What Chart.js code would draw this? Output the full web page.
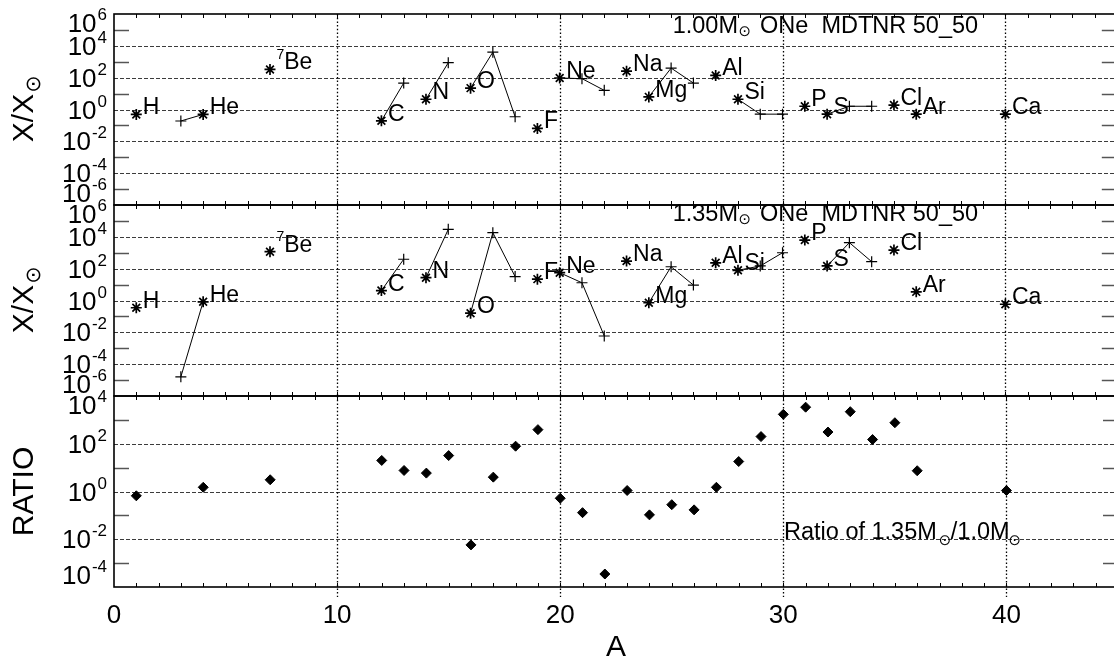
<!DOCTYPE html>
<html>
<head>
<meta charset="utf-8">
<title>ONe nova yields: X/Xsun and ratio</title>
<script src="https://cdn.jsdelivr.net/npm/chart.js@4.4.1/dist/chart.umd.min.js"></script>
<style>
  html, body { margin: 0; padding: 0; background: #fff; overflow: hidden; }
  #plots { position: relative; width: 1114px; height: 659px; overflow: hidden; }
  #plots canvas { position: absolute; left: 0; top: 0; }
</style>
</head>
<body>
<div id="plots">
  <canvas id="top" width="1124" height="659"></canvas>
  <canvas id="mid" width="1124" height="659"></canvas>
  <canvas id="ratio" width="1124" height="659"></canvas>
</div>
<script>
const FONT = '"Liberation Sans", Arial, Helvetica, sans-serif';
const SUN = '\u2299';

// mass number of the main isotope of each element (asterisks)
const A_MAIN = [1, 4, 7, 12, 14, 16, 19, 20, 23, 24, 27, 28, 31, 32, 35, 36, 40];
const ELEMENTS = ['H', 'He', 'Be', 'C', 'N', 'O', 'F', 'Ne', 'Na', 'Mg', 'Al', 'Si', 'P', 'S', 'Cl', 'Ar', 'Ca'];
// the other isotopes (plus signs), joined by a line to their element
const A_MINOR = [3, 13, 15, 17, 18, 21, 22, 25, 26, 29, 30, 33, 34];
const MINOR_OF = ['He', 'C', 'N', 'O', 'O', 'Ne', 'Ne', 'Mg', 'Mg', 'Si', 'Si', 'S', 'S'];

// X/Xsun, 1.00 Msun ONe white dwarf
const main100 = [0.49, 0.49, 330, 0.195, 4.4, 22, 0.065, 95, 257, 6.2, 138, 4.4, 1.6, 0.51, 1.9, 0.51, 0.51];
const minor100 = [0.19, 46, 870, 4000, 0.35, 87, 16, 400, 46, 0.51, 0.51, 1.6, 1.6];

// X/Xsun, 1.35 Msun ONe white dwarf
const main135 = [0.35, 0.83, 1170, 4.2, 27, 0.16, 22, 56, 300, 0.72, 234, 79, 6300, 148, 1480, 3.5, 0.58];
const minor135 = [1.6e-5, 390, 29500, 18200, 32, 13, 0.0059, 132, 9.3, 148, 1000, 4300, 275];

// 1.35 / 1.00 ratio by mass number
const A_RATIO = [1, 4, 7, 12, 13, 14, 15, 16, 17, 18, 19, 20, 21, 22, 23, 24, 25, 26, 27, 28, 29, 30, 31, 32, 33, 34, 35, 36, 40];
const ratio = [0.66, 1.5, 3.1, 20, 7.6, 5.9, 32, 0.0058, 4.0, 79, 390, 0.52, 0.13, 3.5e-4, 1.1, 0.105, 0.28, 0.17,
               1.5, 18, 200, 1700, 3400, 310, 2200, 150, 760, 7.4, 1.1];

// tick labels
const X_TICKS = [0, 10, 20, 30, 40];
const EXP_ABUND = [6, 4, 2, 0, -2, -4, -6];
const EXP_RATIO = [4, 2, 0, -2, -4];

// size a sun symbol so its ink is d pixels tall
function sunMetrics(ctx, d) {
    ctx.font = '100px "DejaVu Sans"';
    const m0 = ctx.measureText(SUN);
    const size = 100 * d / (m0.actualBoundingBoxAscent + m0.actualBoundingBoxDescent);
    const font = size.toFixed(2) + 'px "DejaVu Sans"';
    ctx.font = font;
    const m = ctx.measureText(SUN);
    return {
        font,
        left: m.actualBoundingBoxLeft,
        width: m.actualBoundingBoxLeft + m.actualBoundingBoxRight,
        mid: (m.actualBoundingBoxAscent - m.actualBoundingBoxDescent) / 2
    };
}

// text runs with inline sun symbols; returns the advance width
function richText(ctx, x0, base, parts, size, draw) {
    let x = x0;
    ctx.textAlign = 'left';
    ctx.textBaseline = 'alphabetic';
    parts.forEach(p => {
        if (typeof p === 'string') {
            ctx.font = size + 'px ' + FONT;
            if (draw) ctx.fillText(p, x, base);
            x += ctx.measureText(p).width;
        } else {
            const s = sunMetrics(ctx, p.sun);
            x += p.pre || 0;
            ctx.font = s.font;
            if (draw) ctx.fillText(SUN, x + s.left, base + (p.dy || 0) + s.mid);
            x += s.width + (p.post || 0);
        }
    });
    return x - x0;
}

// join each element's isotopes with a line, gaps between elements
function chains(main, minor) {
    const pts = [];
    ELEMENTS.forEach((el, i) => {
        const iso = [{ x: A_MAIN[i], y: main[i] }];
        MINOR_OF.forEach((m, j) => { if (m === el) iso.push({ x: A_MINOR[j], y: minor[j] }); });
        if (iso.length < 2) return;
        iso.sort((a, b) => a.x - b.x);
        pts.push(...iso, { x: iso[iso.length - 1].x + 0.5, y: null });
    });
    return pts;
}

function line(ctx, x1, y1, x2, y2) {
    ctx.beginPath();
    ctx.moveTo(x1, y1);
    ctx.lineTo(x2, y2);
    ctx.stroke();
}

// IDL-style frame, grid, tick labels and annotations for one panel
function idlPanel(cfg) {
    return {
        id: 'idlPanel',
        beforeDatasetsDraw(chart) {
            const { ctx, chartArea: a, scales: { x, y } } = chart;
            ctx.save();
            ctx.strokeStyle = '#3c3c3c';
            ctx.lineWidth = 1;
            ctx.setLineDash([4, 2]);
            cfg.exps.forEach(p => {
                const py = Math.round(y.getPixelForValue(Math.pow(10, p))) + 0.5;
                if (py <= a.top + 2 || py >= a.bottom - 2) return;
                line(ctx, a.left, py, a.right, py);
            });
            ctx.strokeStyle = '#000';
            ctx.lineWidth = 1.3;
            ctx.setLineDash([1.5, 2.2]);
            X_TICKS.forEach(v => {
                if (v <= x.min || v >= x.max) return;
                const px = Math.round(x.getPixelForValue(v)) + 0.5;
                line(ctx, px, a.top, px, a.bottom + (cfg.xLabels ? 10 : 0));
            });
            ctx.restore();
        },
        afterDatasetsDraw(chart) {
            const { ctx, chartArea: a, scales: { x, y } } = chart;
            ctx.save();
            ctx.fillStyle = '#000';

            // odd decades: short ticks on both sides
            const lo = Math.min(...cfg.exps), hi = Math.max(...cfg.exps);
            ctx.strokeStyle = '#555';
            ctx.lineWidth = 1.5;
            for (let p = lo + 1; p < hi; p += 2) {
                const py = Math.round(y.getPixelForValue(Math.pow(10, p))) + 0.5;
                line(ctx, a.left, py, a.left + 15, py);
                line(ctx, a.right - 15, py, a.right, py);
            }

            // unit ticks along top and bottom
            ctx.strokeStyle = '#000';
            ctx.lineWidth = 1;
            for (let v = Math.ceil(x.min) + 1; v < x.max; v++) {
                const px = Math.round(x.getPixelForValue(v)) + 0.5;
                line(ctx, px, a.top, px, a.top + 4);
                line(ctx, px, a.bottom - 4, px, a.bottom);
            }

            ctx.lineWidth = 1.6;
            ctx.strokeRect(a.left, a.top, a.right - a.left, a.bottom - a.top);

            // decade labels 10^n, end labels pulled inside the panel
            ctx.textBaseline = 'alphabetic';
            ctx.textAlign = 'right';
            cfg.exps.forEach(p => {
                let cy = y.getPixelForValue(Math.pow(10, p));
                cy = Math.min(Math.max(cy, a.top + 9), a.bottom - 12);
                const base = cy + 9;
                const es = String(p);
                ctx.font = '17px ' + FONT;
                const ew = ctx.measureText(es).width;
                ctx.fillText(es, a.left - 7, base - 12);
                ctx.font = '26px ' + FONT;
                ctx.fillText('10', a.left - 8 - ew, base);
            });

            // rotated axis title
            ctx.save();
            ctx.translate(a.left - 81, (a.top + a.bottom) / 2);
            ctx.rotate(-Math.PI / 2);
            const tw = richText(ctx, 0, 0, cfg.yTitle, 30, false);
            richText(ctx, -tw / 2, 0, cfg.yTitle, 30, true);
            ctx.restore();

            // element names beside the main isotope
            if (cfg.main) {
                ELEMENTS.forEach((el, i) => {
                    const px = x.getPixelForValue(A_MAIN[i]) + 6.5;
                    const py = y.getPixelForValue(cfg.main[i]);
                    ctx.textAlign = 'left';
                    if (el === 'Be') {
                        ctx.font = '14px ' + FONT;
                        ctx.fillText('7', px, py - 10.5);
                        const w7 = ctx.measureText('7').width;
                        ctx.font = '23px ' + FONT;
                        ctx.fillText('Be', px + w7, py);
                    } else {
                        ctx.font = '23px ' + FONT;
                        ctx.fillText(el, px, py);
                    }
                });
            }

            // caption inside the panel
            const c = cfg.caption;
            richText(ctx, x.getPixelForValue(c.at[0]), y.getPixelForValue(c.at[1]), c.parts, 23.5, true);

            // x tick labels and title under the bottom panel
            if (cfg.xLabels) {
                ctx.textAlign = 'center';
                ctx.font = '26px ' + FONT;
                X_TICKS.forEach(v => ctx.fillText(String(v), x.getPixelForValue(v), a.bottom + 36));
                ctx.font = '30px ' + FONT;
                ctx.fillText('A', x.getPixelForValue((x.min + x.max) / 2), a.bottom + 69);
            }
            ctx.restore();
        }
    };
}

function panel(id, top, bottom, yMin, yMax, datasets, cfg) {
    return new Chart(document.getElementById(id), {
        type: 'scatter',
        data: { datasets },
        options: {
            responsive: false,
            animation: false,
            devicePixelRatio: 1,
            events: [],
            layout: { padding: { left: 114, right: 3, top: top, bottom: 659 - bottom } },
            scales: {
                x: { type: 'linear', min: 0, max: 45, display: false },
                y: { type: 'logarithmic', min: yMin, max: yMax, display: false }
            },
            plugins: { legend: { display: false }, tooltip: { enabled: false } }
        },
        plugins: [idlPanel(cfg)]
    });
}

function abundanceSets(main, minor) {
    return [
        {
            data: A_MAIN.map((a, i) => ({ x: a, y: main[i] })),
            pointStyle: 'star', pointRadius: 5.5,
            borderColor: '#000', backgroundColor: '#000', borderWidth: 1.7
        },
        {
            data: A_MINOR.map((a, i) => ({ x: a, y: minor[i] })),
            pointStyle: 'cross', pointRadius: 5.5,
            borderColor: '#000', backgroundColor: '#000', borderWidth: 1.2
        },
        {
            data: chains(main, minor),
            showLine: true, spanGaps: false, pointRadius: 0,
            borderColor: '#000', borderWidth: 1
        }
    ];
}

const sunTitle = ['X/X', { sun: 14, dy: 0, pre: 2 }];

panel('top', 14, 205, 1e-6, 1e6, abundanceSets(main100, minor100), {
    exps: EXP_ABUND,
    yTitle: sunTitle,
    main: main100,
    caption: { at: [25.07, Math.pow(10, 4.8)], parts: ['1.00M', { sun: 10, dy: -1.7, pre: 1.5, post: 3 }, ' ONe  MDTNR 50_50'] }
});

panel('mid', 205, 396, 1e-6, 1e6, abundanceSets(main135, minor135), {
    exps: EXP_ABUND,
    yTitle: sunTitle,
    main: main135,
    caption: { at: [25.07, 1e5], parts: ['1.35M', { sun: 10, dy: -1.7, pre: 1.5, post: 3 }, ' ONe  MDTNR 50_50'] }
});

panel('ratio', 396, 587, 1e-4, 1e4, [
    {
        data: A_RATIO.map((a, i) => ({ x: a, y: ratio[i] })),
        pointStyle: 'rectRot', pointRadius: 5,
        borderColor: '#000', backgroundColor: '#000', borderWidth: 1
    }
], {
    exps: EXP_RATIO,
    yTitle: ['RATIO'],
    caption: { at: [30.03, 1e-2], parts: ['Ratio of 1.35M', { sun: 10, dy: 1, pre: 3, post: 0 }, '/1.0M', { sun: 10, dy: 1, pre: 0 }] },
    xLabels: true
});
</script>
</body>
</html>
